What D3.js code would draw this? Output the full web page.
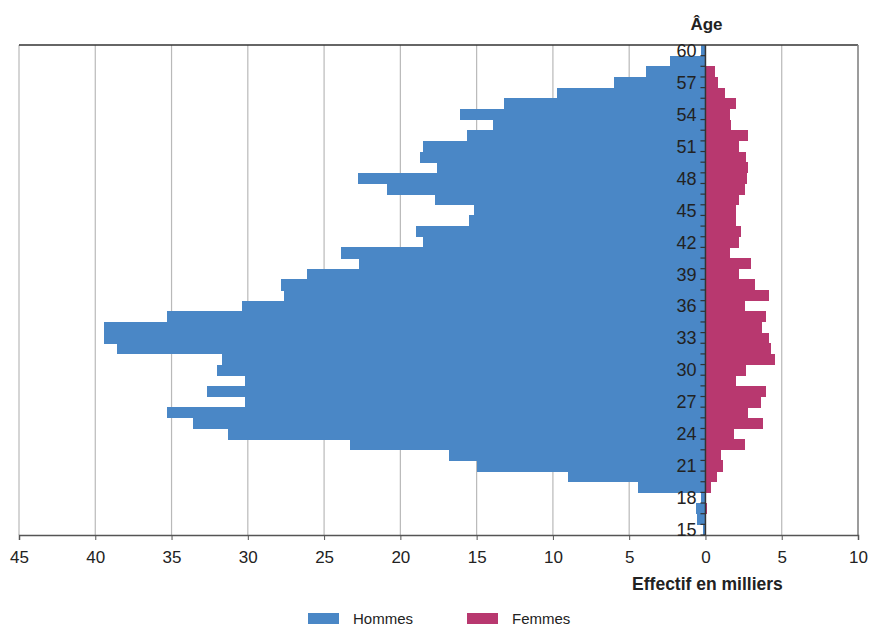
<!DOCTYPE html>
<html>
<head>
<meta charset="utf-8">
<script src="https://cdn.jsdelivr.net/npm/d3@7"></script>
<style>
  body { margin: 0; background: #fff; }
  svg text { font-family: "Liberation Sans", Arial, sans-serif; fill: #222; }
</style>
</head>
<body>
<div id="container"></div>
<script>
// ages from 15 to 60
const ages = d3.range(15, 61);

// Effectif en milliers, one value per age (15 -> 60)
const hommes = [
  0.15, 0.55, 0.65, 0.3, 4.45, 9.0, 15.0, 16.8, 23.3, 31.3,
  33.6, 35.3, 30.2, 32.7, 30.2, 32.0, 31.7, 38.6, 39.4, 39.45,
  35.3, 30.4, 27.6, 27.8, 26.1, 22.7, 23.9, 18.5, 19.0, 15.5,
  15.2, 17.7, 20.9, 22.8, 17.6, 18.7, 18.5, 15.6, 13.9, 16.1,
  13.2, 9.75, 6.0, 3.9, 2.33, 0.3
];
const femmes = [
  0, 0, 0.1, 0, 0.38, 0.77, 1.13, 1.0, 2.57, 1.9,
  3.75, 2.77, 3.62, 3.95, 2.0, 2.64, 4.53, 4.27, 4.14, 3.7,
  3.95, 2.57, 4.14, 3.23, 2.18, 2.97, 1.6, 2.18, 2.3, 2.0,
  2.0, 2.18, 2.56, 2.74, 2.8, 2.64, 2.18, 2.77, 1.65, 1.6,
  2.0, 1.27, 0.8, 0.6, 0, 0
];

const xTicks = [-45, -40, -35, -30, -25, -20, -15, -10, -5, 0, 5, 10];
const seriesNames = ["Hommes", "Femmes"];
const seriesColors = ["#4A87C6", "#B8386F"];

const width = 869;
const height = 627;
const plotTop = 45, plotBottom = 535, plotLeft = 19, plotRight = 858;

const svg = d3.select("#container")
  .append("svg")
  .attr("width", width)
  .attr("height", height);

const x = d3.scaleLinear().domain([-45, 10]).range([plotLeft, plotRight]);
const y = d3.scaleBand().domain(ages.slice().reverse()).range([plotTop, plotBottom]).padding(0);

// vertical grid
svg.append("g")
  .selectAll("line")
  .data(xTicks.filter(d => d !== 0))
  .enter()
  .append("line")
  .attr("x1", d => x(d)).attr("x2", d => x(d))
  .attr("y1", plotTop).attr("y2", plotBottom)
  .attr("stroke", "#b9b9b9")
  .attr("stroke-width", 1.2);

// bars
const data = ages.map((a, i) => ({ age: a, h: hommes[i], f: femmes[i] }));

svg.append("g")
  .attr("shape-rendering", "crispEdges")
  .selectAll("rect")
  .data(data)
  .enter()
  .append("rect")
  .attr("x", d => x(-d.h))
  .attr("y", d => y(d.age))
  .attr("width", d => x(0) - x(-d.h))
  .attr("height", y.bandwidth() + 0.5)
  .attr("fill", seriesColors[0]);

svg.append("g")
  .attr("shape-rendering", "crispEdges")
  .selectAll("rect")
  .data(data)
  .enter()
  .append("rect")
  .attr("x", x(0))
  .attr("y", d => y(d.age))
  .attr("width", d => x(d.f) - x(0))
  .attr("height", y.bandwidth() + 0.5)
  .attr("fill", seriesColors[1]);

// frame: top and right
svg.append("line")
  .attr("x1", plotLeft).attr("x2", plotRight).attr("y1", plotTop).attr("y2", plotTop)
  .attr("stroke", "#333").attr("stroke-width", 1.5);
svg.append("line")
  .attr("x1", plotRight).attr("x2", plotRight).attr("y1", plotTop).attr("y2", plotBottom)
  .attr("stroke", "#888").attr("stroke-width", 1.5);

// bottom axis
const xAxis = svg.append("g")
  .attr("transform", `translate(0,${plotBottom})`)
  .call(d3.axisBottom(x)
    .tickValues(xTicks)
    .tickFormat(d => Math.abs(d))
    .tickSize(5)
    .tickPadding(11));
xAxis.select(".domain").attr("stroke", "#555").attr("stroke-width", 1.5);
xAxis.selectAll(".tick line").attr("stroke", "#555");
xAxis.selectAll("text")
  .style("font-size", "17px")
  .attr("fill", "#222");

// age axis at zero
const x0 = x(0);
svg.append("line")
  .attr("x1", x0).attr("x2", x0).attr("y1", plotTop).attr("y2", plotBottom)
  .attr("stroke", "#333").attr("stroke-width", 1.5);

svg.append("g")
  .selectAll("line")
  .data(ages)
  .enter()
  .append("line")
  .attr("x1", x0 - 5).attr("x2", x0)
  .attr("y1", d => y(d) + y.bandwidth())
  .attr("y2", d => y(d) + y.bandwidth())
  .attr("stroke", "#333")
  .attr("stroke-width", 1.2);

svg.append("g")
  .selectAll("text")
  .data(ages.filter(a => a % 3 === 0))
  .enter()
  .append("text")
  .attr("x", x0 - 9)
  .attr("y", d => y(d) + y.bandwidth() / 2)
  .attr("dy", "0.36em")
  .attr("text-anchor", "end")
  .style("font-size", "18px")
  .text(d => d);

// titles
svg.append("text")
  .attr("x", x0 + 1)
  .attr("y", 30)
  .attr("text-anchor", "middle")
  .style("font-size", "17px")
  .style("font-weight", "bold")
  .text("Âge");

svg.append("text")
  .attr("x", x0 + 2)
  .attr("y", 590)
  .attr("text-anchor", "middle")
  .style("font-size", "17.5px")
  .style("font-weight", "bold")
  .text("Effectif en milliers");

// legend
const legendX = [308, 467];
const legend = svg.append("g")
  .selectAll("g")
  .data(seriesNames)
  .enter()
  .append("g")
  .attr("transform", (d, i) => `translate(${legendX[i]},613)`);

legend.append("rect")
  .attr("width", 31)
  .attr("height", 11)
  .attr("fill", (d, i) => seriesColors[i]);

legend.append("text")
  .attr("x", 45)
  .attr("y", 10.5)
  .style("font-size", "15px")
  .text(d => d);
</script>
</body>
</html>
